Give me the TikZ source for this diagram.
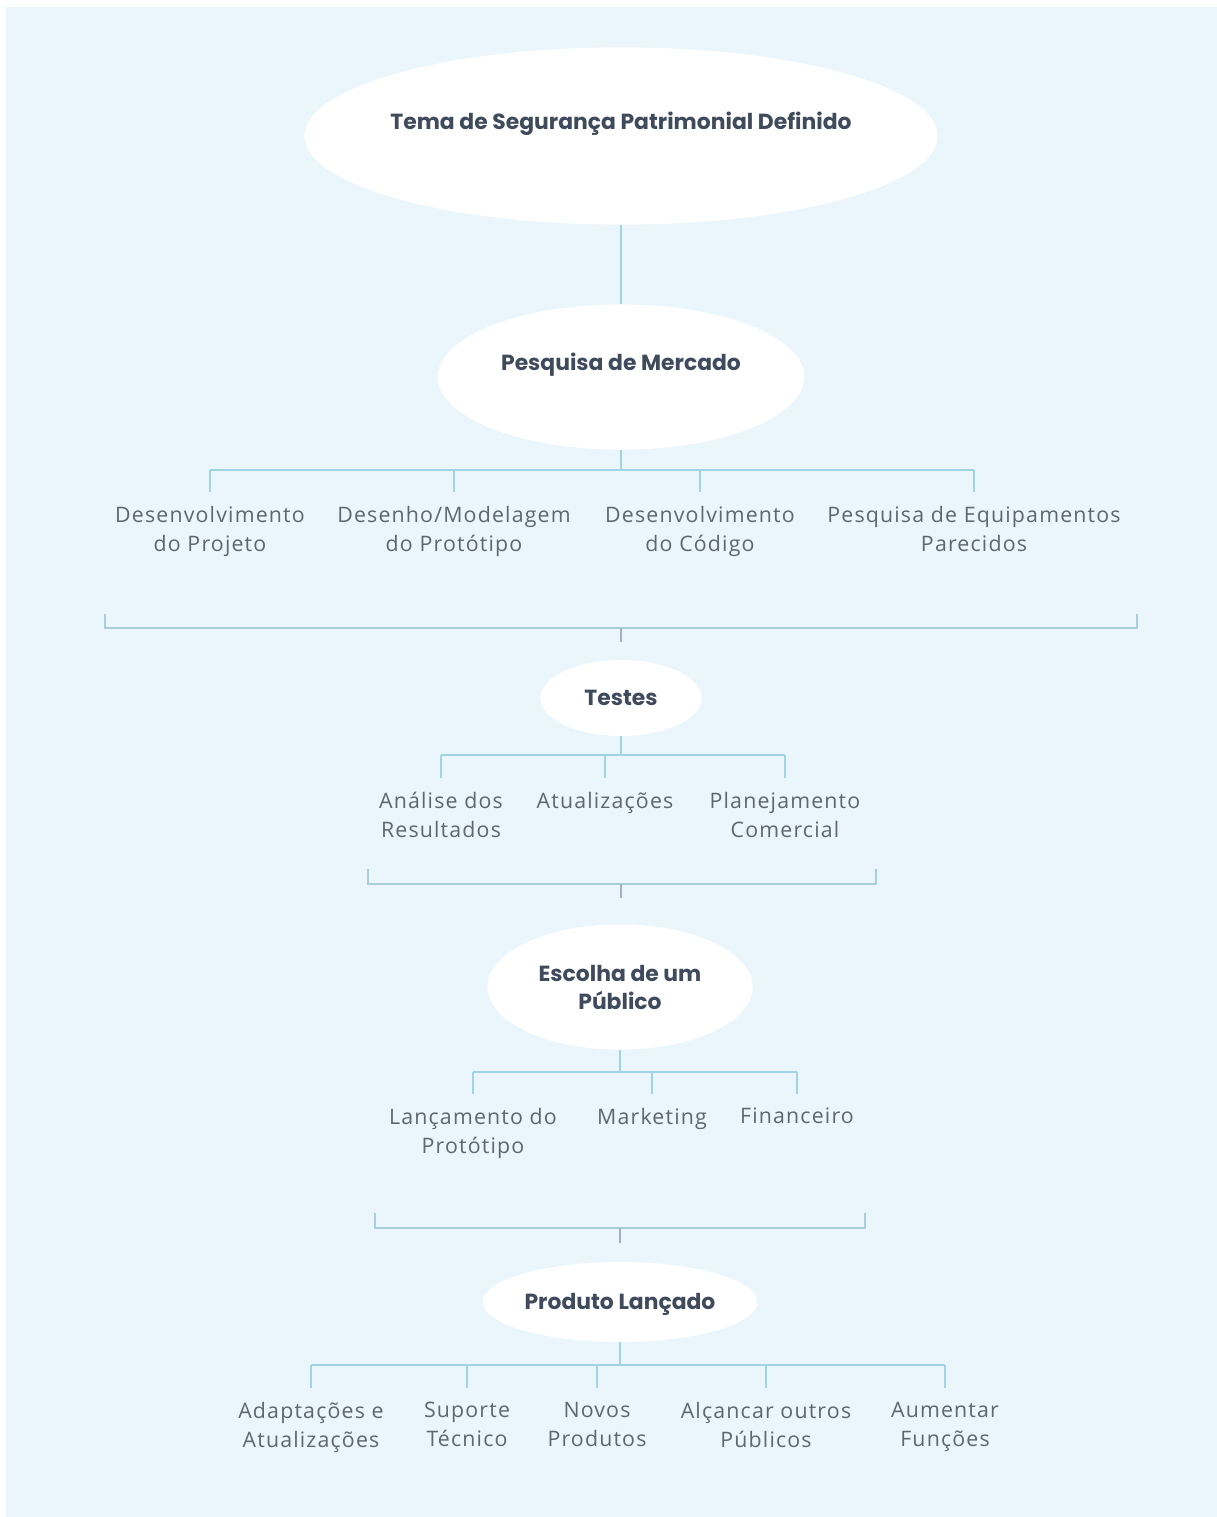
\documentclass[tikz,border=0pt]{standalone}
\usepackage{fontspec}
\setmainfont{Open Sans}[LetterSpace=5.5]
\newfontfamily\headfont{Poppins}
\usepackage{tikz}
\usetikzlibrary{positioning, shapes.geometric}

\definecolor{bgblue}{HTML}{EAF6FB}
\definecolor{linkblue}{HTML}{9FD4E4}
\definecolor{brkblue}{HTML}{A9CDDB}
\definecolor{tickgray}{HTML}{9DB3BD}
\definecolor{bodytxt}{HTML}{5E6670}
\definecolor{headtxt}{HTML}{3F4A5C}

\begin{document}
\begin{tikzpicture}[x=0.75pt, y=-0.75pt,
      phase/.style={ellipse, fill=white, inner sep=0pt, align=center,
                    font=\headfont\bfseries\fontsize{16.4}{21}\selectfont, text=headtxt},
      raised/.style={text height=12pt, text depth=22pt},
      lbl/.style={anchor=north, inner xsep=0pt, inner ysep=10.5pt, align=center,
                  font=\fontsize{16}{21.75}\selectfont, text=bodytxt},
      link/.style={draw=linkblue, line width=2.2pt},
      brk/.style={draw=brkblue, line width=1.5pt},
      tick/.style={draw=tickgray, line width=1pt}]

    % page: white strip top/left, light blue panel
    \useasboundingbox (0,0) rectangle (1217,1517);
    \fill[white] (0,0) rectangle (1217,1517);
    \fill[bgblue] (6,7) rectangle (1217,1517);

    % ======= PHASES (ellipses down the middle) =======
    % negative xsep keeps the long title from widening the ellipse
    \node[phase, raised, inner xsep=-40pt, minimum width=475pt, minimum height=133pt] (tema) at (621,136)
        {Tema de Segurança Patrimonial Definido};
    \node[phase, raised, minimum width=275pt, minimum height=109pt] (pesq) at (621,377)
        {Pesquisa de Mercado};
    \node[phase, text height=12pt, text depth=1pt, minimum width=121pt, minimum height=57pt] (testes) at (621,698)
        {Testes};
    \node[phase, minimum width=199pt, minimum height=94pt] (escolha) at (620,987)
        {Escolha de um\\Público};
    \node[phase, text height=12pt, text depth=1pt, minimum width=206pt, minimum height=60pt] (produto) at (620,1302)
        {Produto Lançado};

    \draw[link] (tema.south) -- (pesq.north);

    % --- Row 1: after market research ---
    \node[lbl] (proj)  at (210,492) {Desenvolvimento\\do Projeto};
    \node[lbl] (model) at (454,492) {Desenho/Modelagem\\do Protótipo};
    \node[lbl] (cod)   at (700,492) {Desenvolvimento\\do Código};
    \node[lbl] (equip) at (974,492) {Pesquisa de Equipamentos\\Parecidos};

    \coordinate (bar1) at (621,470);
    \draw[link] (pesq.south) -- (bar1);
    \draw[link] (bar1 -| proj) -- (bar1 -| equip);
    \foreach \c in {proj, model, cod, equip}
        \draw[link] (bar1 -| \c) -- (\c.north);

    % bracket closing row 1
    \coordinate (brk1) at (621,628);
    \draw[brk] (105,614) |- (brk1) -| (1137,614);
    \draw[tick] (brk1) -- ++(0,14);

    % --- Row 2: after tests ---
    \node[lbl] (anal)  at (441,778) {Análise dos\\Resultados};
    \node[lbl] (atual) at (605,778) {Atualizações};
    \node[lbl] (plan)  at (785,778) {Planejamento\\Comercial};

    \coordinate (bar2) at (621,755);
    \draw[link] (testes.south) -- (bar2);
    \draw[link] (bar2 -| anal) -- (bar2 -| plan);
    \foreach \c in {anal, atual, plan}
        \draw[link] (bar2 -| \c) -- (\c.north);

    \coordinate (brk2) at (621,884);
    \draw[brk] (368,869) |- (brk2) -| (876,869);
    \draw[tick] (brk2) -- ++(0,14);

    % --- Row 3: after choosing the audience ---
    \node[lbl] (lanc) at (473,1094) {Lançamento do\\Protótipo};
    \node[lbl] (mkt)  at (652,1094) {Marketing};
    \node[lbl] (fin)  at (797,1094) {Financeiro};

    \coordinate (bar3) at (620,1072);
    \draw[link] (escolha.south) -- (bar3);
    \draw[link] (bar3 -| lanc) -- (bar3 -| fin);
    \foreach \c in {lanc, mkt, fin}
        \draw[link] (bar3 -| \c) -- (\c.north);

    \coordinate (brk3) at (620,1228);
    \draw[brk] (375,1213) |- (brk3) -| (865,1213);
    \draw[tick] (brk3) -- ++(0,15);

    % --- Row 4: after launch ---
    \node[lbl] (adapt) at (311,1388) {Adaptações e\\Atualizações};
    \node[lbl] (sup)   at (467,1388) {Suporte\\Técnico};
    \node[lbl] (novos) at (597,1388) {Novos\\Produtos};
    \node[lbl] (alc)   at (766,1388) {Alçancar outros\\Públicos};
    \node[lbl] (aum)   at (945,1388) {Aumentar\\Funções};

    \coordinate (bar4) at (620,1365);
    \draw[link] (produto.south) -- (bar4);
    \draw[link] (bar4 -| adapt) -- (bar4 -| aum);
    \foreach \c in {adapt, sup, novos, alc, aum}
        \draw[link] (bar4 -| \c) -- (\c.north);

\end{tikzpicture}
\end{document}
